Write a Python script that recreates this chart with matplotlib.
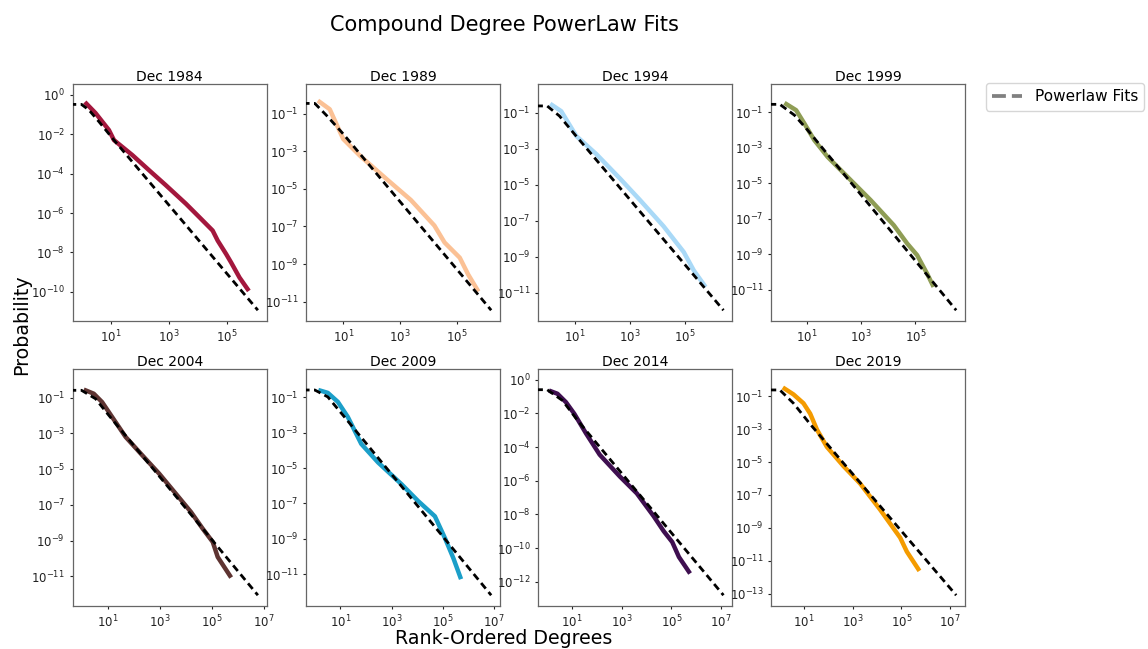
import numpy as np
import matplotlib
matplotlib.use("Agg")
import matplotlib.pyplot as plt
from matplotlib.lines import Line2D
from matplotlib.ticker import NullLocator

# ---------------- data ----------------
titles = ["Dec 1984", "Dec 1989", "Dec 1994", "Dec 1999",
          "Dec 2004", "Dec 2009", "Dec 2014", "Dec 2019"]
colors = ["#A3173D", "#FBC195", "#A9D9F7", "#8F9D55",
          "#5E3432", "#1B9FC9", "#3F0F50", "#F49B00"]

# empirical rank-ordered degree distributions
rank_1984 = [1.30, 3.04, 8.73, 13.0, 55.6, 209, 787, 3850, 11100, 31800, 47400, 92300, 137000, 265000, 556000]
prob_1984 = [0.427, 0.117, 0.0162, 5.01e-3, 8.71e-4, 1.48e-4, 2.57e-5, 2.95e-6, 6.17e-7, 1.29e-7, 3.98e-8, 8.32e-9, 3.09e-9, 5.37e-10, 1.12e-10]

rank_1989 = [1.28, 3.34, 9.93, 39.1, 348, 2350, 15800, 36000, 123000, 245000, 556000]
prob_1989 = [0.490, 0.170, 4.47e-3, 5.62e-4, 3.09e-5, 2.57e-6, 1.12e-7, 1.41e-8, 2.19e-9, 2.75e-10, 3.47e-11]

rank_1994 = [1.29, 3.25, 11.5, 62.2, 445, 2400, 17100, 92500, 214000, 575000]
prob_1994 = [0.316, 0.123, 5.13e-3, 5.01e-4, 2.24e-5, 1.41e-6, 5.01e-8, 1.86e-9, 1.78e-10, 2.14e-11]

rank_1999 = [1.48, 3.99, 8.04, 18.7, 58.1, 315, 2250, 16100, 50100, 117000, 272000, 474000]
prob_1999 = [0.347, 0.135, 0.0240, 2.75e-3, 3.09e-4, 2.29e-5, 1.12e-6, 4.27e-8, 3.98e-9, 8.71e-10, 7.94e-11, 1.41e-11]

rank_2004 = [1.22, 2.96, 6.18, 15.1, 49.5, 217, 957, 4220, 16000, 45000, 110000, 171000, 561000]
prob_2004 = [0.282, 0.166, 0.0562, 8.13e-3, 6.31e-4, 5.89e-5, 5.62e-6, 4.17e-7, 3.98e-8, 4.68e-9, 8.32e-10, 1.20e-10, 8.51e-12]

rank_2009 = [1.37, 3.21, 7.91, 19.5, 64.9, 293, 2400, 10800, 48500, 120000, 256000, 508000]
prob_2009 = [0.263, 0.182, 0.0562, 7.76e-3, 2.34e-4, 2.09e-5, 1.23e-6, 1.35e-7, 1.86e-8, 1.07e-9, 7.76e-11, 5.13e-12]

rank_2014 = [1.19, 2.60, 5.71, 12.4, 37.2, 130, 847, 4060, 19200, 49200, 108000, 201000, 564000]
prob_2014 = [0.229, 0.148, 0.0468, 9.55e-3, 6.31e-4, 3.55e-5, 1.78e-6, 1.78e-7, 7.94e-9, 1.00e-9, 2.29e-10, 2.95e-11, 3.09e-12]

rank_2019 = [1.33, 3.64, 9.38, 17.7, 33.3, 85.7, 413, 2000, 13300, 88300, 166000, 548000]
prob_2019 = [0.339, 0.129, 0.0372, 8.71e-3, 9.55e-4, 8.32e-5, 5.62e-6, 4.90e-7, 1.26e-8, 2.51e-10, 3.55e-11, 2.40e-12]

# power-law fits (rank 0 included, as in the original evaluation)
fit_rank_1984 = [0, 1, 1.79, 3.94, 13.0, 1.135e6]
fit_prob_1984 = [1.0, 0.324, 0.170, 0.0437, 5.01e-3, 1.175e-11]

fit_rank_1989 = [0, 1, 2.55, 9.93, 1.56e6]
fit_prob_1989 = [1.0, 0.347, 0.0813, 8.32e-3, 3.55e-12]

fit_rank_1994 = [0, 1, 2.82, 9.98, 2.57e6]
fit_prob_1994 = [1.0, 0.240, 0.0661, 6.46e-3, 1.10e-12]

fit_rank_1999 = [0, 1, 3.45, 10.7, 3.23e6]
fit_prob_1999 = [1.0, 0.288, 0.0708, 0.0100, 6.76e-13]

fit_rank_2004 = [0, 1, 3.44, 11.2, 5.97e6]
fit_prob_2004 = [1.0, 0.257, 0.0871, 0.0102, 8.71e-13]

fit_rank_2009 = [0, 1, 3.21, 14.4, 7.62e6]
fit_prob_2009 = [1.0, 0.263, 0.107, 7.76e-3, 6.31e-13]

fit_rank_2014 = [0, 1, 4.15, 16.9, 1.245e7]
fit_prob_2014 = [1.0, 0.257, 0.0589, 3.80e-3, 1.58e-13]

fit_rank_2019 = [0, 1, 3.64, 17.7, 1.77e7]
fit_prob_2019 = [1.0, 0.240, 0.0372, 2.00e-3, 7.94e-14]

emp_ranks = [rank_1984, rank_1989, rank_1994, rank_1999, rank_2004, rank_2009, rank_2014, rank_2019]
emp_probs = [prob_1984, prob_1989, prob_1994, prob_1999, prob_2004, prob_2009, prob_2014, prob_2019]
fit_ranks = [fit_rank_1984, fit_rank_1989, fit_rank_1994, fit_rank_1999,
             fit_rank_2004, fit_rank_2009, fit_rank_2014, fit_rank_2019]
fit_probs = [fit_prob_1984, fit_prob_1989, fit_prob_1994, fit_prob_1999,
             fit_prob_2004, fit_prob_2009, fit_prob_2014, fit_prob_2019]

ytick_parity = [0, 1, 1, 1, 1, 1, 0, 1]   # even / odd decades labelled

# ---------------- figure ----------------
W, H = 1148, 649
fig = plt.figure(figsize=(W / 100, H / 100), dpi=100)

lefts_px = [72.7, 306.0, 538.3, 771.0]
width_px = 194.0
rows_px = [(84.0, 321.0), (369.0, 606.0)]

for i in range(8):
    r, c = divmod(i, 4)
    top, bot = rows_px[r]
    ax = fig.add_axes([lefts_px[c] / W, 1 - bot / H, width_px / W, (bot - top) / H])
    ax.set_xscale("log")
    ax.set_yscale("log")
    ax.plot(emp_ranks[i], emp_probs[i], color=colors[i], lw=3.2, solid_capstyle="butt", zorder=2)
    ax.plot(fit_ranks[i], fit_probs[i], color="black", lw=2.0, ls=(0, (2.6, 1.6)), zorder=3)
    ax.set_title(titles[i], fontsize=10, pad=2.5)

    lo, hi = ax.get_ylim()
    yt = [10.0 ** e for e in range(-20, 3) if (e % 2) == ytick_parity[i] and lo <= 10.0 ** e <= hi]
    ax.set_yticks(yt)
    xlo, xhi = ax.get_xlim()
    xt = [10.0 ** e for e in (1, 3, 5, 7) if xlo <= 10.0 ** e <= xhi]
    ax.set_xticks(xt)
    ax.set_xlim(xlo, xhi)
    ax.set_ylim(lo, hi)
    ax.xaxis.set_minor_locator(NullLocator())
    ax.yaxis.set_minor_locator(NullLocator())
    ax.tick_params(labelsize=8.5, length=2.5, width=0.8, pad=3, colors="#222222")
    for s in ax.spines.values():
        s.set_edgecolor("#666666")
        s.set_linewidth(0.9)

fig.text(504.5 / W, 1 - 25 / H, "Compound Degree PowerLaw Fits", ha="center", va="center", fontsize=15)
fig.text(504 / W, 1 - 638 / H, "Rank-Ordered Degrees", ha="center", va="center", fontsize=13.7)
fig.text(22 / W, 0.5, "Probability", ha="center", va="center", rotation=90, fontsize=13.7)

handle = Line2D([], [], color="gray", lw=2.7, ls="--")
fig.legend([handle], ["Powerlaw Fits"], loc="upper left",
           bbox_to_anchor=(985.7 / W, 1 - 83.3 / H), borderaxespad=0, fontsize=11)

fig.savefig("out.png", dpi=100)
